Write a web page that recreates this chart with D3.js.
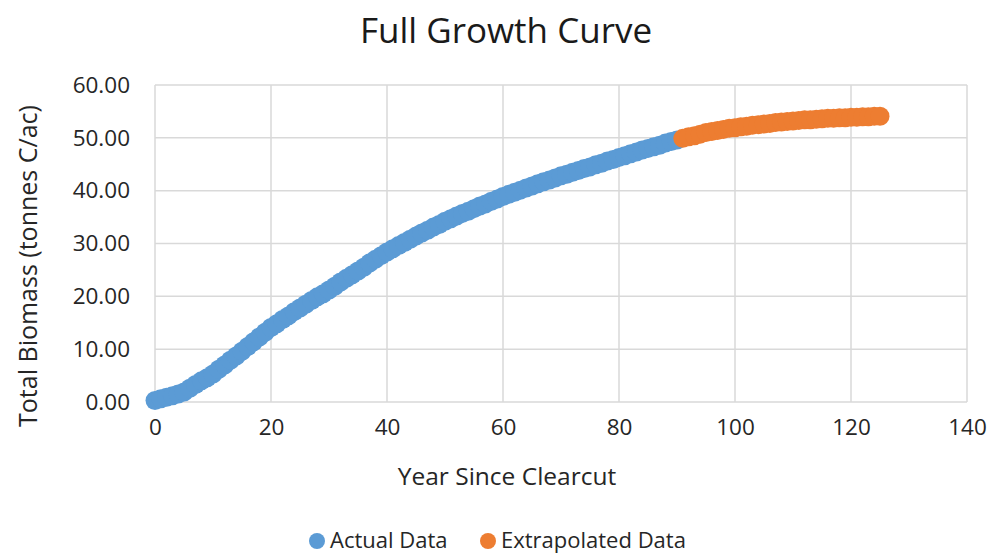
<!DOCTYPE html>
<html>
<head>
<meta charset="utf-8">
<script src="https://cdn.jsdelivr.net/npm/d3@7"></script>
<style>
  body { margin: 0; background: #fff; }
  svg { display: block; font-family: "Open Sans", "Noto Sans", sans-serif; }
</style>
</head>
<body>
<svg id="chart" width="987" height="555"></svg>
<script>
// Total biomass by year since clearcut (tonnes C/ac)
const actualYears = d3.range(0, 91);
const actualValues = [
  0.3, 0.6, 0.9, 1.2, 1.5, 1.9, 2.6, 3.3, 4.0, 4.6,
  5.3, 6.2, 7.0, 7.9, 8.7, 9.6, 10.5, 11.4, 12.3, 13.2,
  14.1, 14.8, 15.6, 16.3, 17.1, 17.8, 18.5, 19.2, 19.9, 20.5,
  21.2, 21.9, 22.7, 23.4, 24.1, 24.8, 25.5, 26.3, 27.0, 27.7,
  28.4, 29.0, 29.6, 30.2, 30.8, 31.4, 32.0, 32.5, 33.1, 33.6,
  34.2, 34.7, 35.2, 35.7, 36.1, 36.6, 37.1, 37.5, 38.0, 38.4,
  38.9, 39.3, 39.7, 40.1, 40.5, 40.9, 41.3, 41.7, 42.0, 42.4,
  42.8, 43.1, 43.5, 43.8, 44.2, 44.5, 44.9, 45.2, 45.6, 45.9,
  46.3, 46.6, 47.0, 47.3, 47.7, 48.0, 48.3, 48.6, 49.0, 49.3,
  49.6
];
const extrapYears = d3.range(91, 126);
const extrapValues = [
  49.9, 50.2, 50.4, 50.7, 51.0, 51.2, 51.4, 51.6, 51.8,
  51.9, 52.1, 52.2, 52.4, 52.5, 52.6, 52.7, 52.9, 53.0, 53.1,
  53.2, 53.3, 53.4, 53.4, 53.5, 53.6, 53.7, 53.7, 53.8, 53.8,
  53.9, 53.9, 54.0, 54.0, 54.1, 54.1
];
const xTicks = [0, 20, 40, 60, 80, 100, 120, 140];
const yTicks = [0, 10, 20, 30, 40, 50, 60];
const seriesNames = ["Actual Data", "Extrapolated Data"];
const seriesColors = ["#5b9bd5", "#ed7d31"];

const svg = d3.select("#chart");
const x = d3.scaleLinear().domain([0, 140]).range([155, 967]);
const y = d3.scaleLinear().domain([0, 60]).range([402, 85]);

// Gridlines
const grid = svg.append("g").attr("stroke", "#d9d9d9").attr("stroke-width", 1.5);
grid.selectAll("line.h").data(yTicks).join("line")
  .attr("x1", x(0)).attr("x2", x(140))
  .attr("y1", d => y(d)).attr("y2", d => y(d));
grid.selectAll("line.v").data(xTicks).join("line")
  .attr("y1", y(0)).attr("y2", y(60))
  .attr("x1", d => x(d)).attr("x2", d => x(d));

// Axes (labels only; lines come from the grid)
const yAxis = svg.append("g").attr("transform", `translate(${x(0)},0)`)
  .call(d3.axisLeft(y).tickValues(yTicks).tickFormat(d3.format(".2f")).tickSize(0).tickPadding(25));
const xAxis = svg.append("g").attr("transform", `translate(0,${y(0)})`)
  .call(d3.axisBottom(x).tickValues(xTicks).tickSize(0).tickPadding(22));
[yAxis, xAxis].forEach(a => {
  a.select(".domain").remove();
  a.selectAll("text").attr("font-size", 22.5).attr("fill", "#262626")
    .attr("font-family", "'Open Sans', sans-serif");
});
xAxis.selectAll("text").attr("dy", "0.5em");

// Data markers
const pts = [
  ...actualYears.map((d, i) => ({ x: d, y: actualValues[i], s: 0 })),
  ...extrapYears.map((d, i) => ({ x: d, y: extrapValues[i], s: 1 }))
];
svg.append("g").selectAll("circle").data(pts).join("circle")
  .attr("cx", d => x(d.x)).attr("cy", d => y(d.y)).attr("r", 9.5)
  .attr("fill", d => seriesColors[d.s]);

// Titles
svg.append("text").attr("x", 506).attr("y", 43).attr("text-anchor", "middle")
  .attr("font-size", 35).attr("fill", "#1a1a1a").text("Full Growth Curve");
svg.append("text").attr("x", 507).attr("y", 485).attr("text-anchor", "middle")
  .attr("font-size", 24.5).attr("fill", "#262626").text("Year Since Clearcut");
svg.append("text").attr("transform", "translate(37,266) rotate(-90)")
  .attr("text-anchor", "middle").attr("font-size", 25).attr("fill", "#262626")
  .text("Total Biomass (tonnes C/ac)");

// Legend
const legend = svg.append("g");
const legX = [317, 488];
seriesNames.forEach((name, i) => {
  legend.append("circle").attr("cx", legX[i]).attr("cy", 541).attr("r", 8)
    .attr("fill", seriesColors[i]);
  legend.append("text").attr("x", legX[i] + 13).attr("y", 548)
    .attr("font-size", 22).attr("fill", "#262626").text(name);
});
</script>
</body>
</html>
